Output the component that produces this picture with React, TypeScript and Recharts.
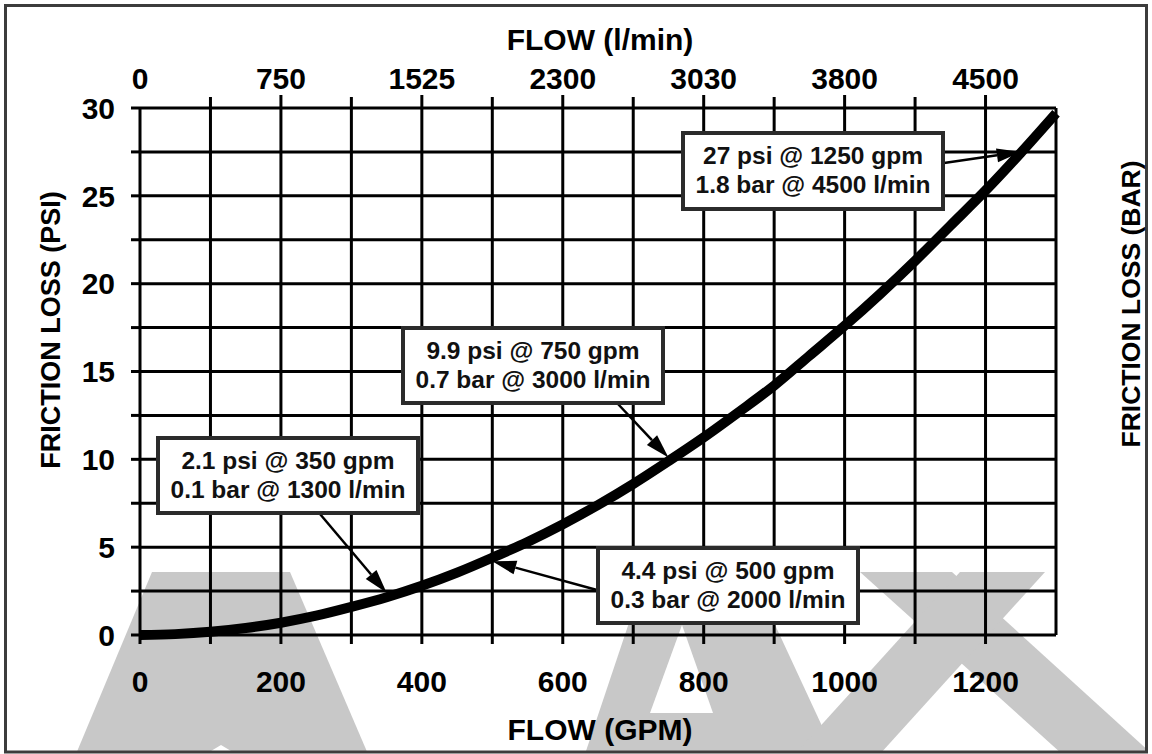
import React from 'react';
import { LineChart, Line, XAxis, YAxis, CartesianGrid, ReferenceDot } from 'recharts';

// ---------- data ----------
const flowGpm = [0, 50, 100, 150, 200, 250, 300, 350, 400, 450, 500, 550, 600, 650, 700, 750, 800, 850, 900, 950, 1000, 1050, 1100, 1150, 1200, 1250, 1300];
const lossPsi = [0, 0.05, 0.18, 0.4, 0.7, 1.1, 1.6, 2.15, 2.8, 3.55, 4.4, 5.3, 6.3, 7.4, 8.6, 9.9, 11.25, 12.7, 14.2, 15.9, 17.6, 19.4, 21.3, 23.3, 25.3, 27.45, 29.7];

const gpmTicks = [0, 100, 200, 300, 400, 500, 600, 700, 800, 900, 1000, 1100, 1200, 1300];
const gpmLabels = ['0', '200', '400', '600', '800', '1000', '1200'];
const lpmTicks = [0, 100, 200, 300, 400, 500, 600, 700, 800, 900, 1000, 1100, 1200];
const lpmLabels = ['0', '750', '1525', '2300', '3030', '3800', '4500'];
const psiTicks = [0, 2.5, 5, 7.5, 10, 12.5, 15, 17.5, 20, 22.5, 25, 27.5, 30];
const barTicks = [0, 1, 2];

// annotation targets (gpm, psi) and texts
const noteGpm = [350, 500, 750, 1250];
const notePsi = [2.4, 4.2, 10.1, 27.5];
const noteLine1 = ['2.1 psi @ 350 gpm', '4.4 psi @ 500 gpm', '9.9 psi @ 750 gpm', '27 psi @ 1250 gpm'];
const noteLine2 = ['0.1 bar @ 1300 l/min', '0.3 bar @ 2000 l/min', '0.7 bar @ 3000 l/min', '1.8 bar @ 4500 l/min'];

// ---------- layout / style (pixels) ----------
const FONT = '"Liberation Sans", Arial, Helvetica, sans-serif';
const TICK_FS = 30;
const TITLE_FS = 30;
const NOTE_FS = 24.5;
const boxes = [
  { x: 158, y: 438, w: 260, h: 75, tx: 320, ty: 514 },
  { x: 598, y: 548, w: 260, h: 75, tx: 597, ty: 590 },
  { x: 403, y: 328, w: 260, h: 75, tx: 618, ty: 404 },
  { x: 683, y: 133, w: 260, h: 76, tx: 944, ty: 163 },
];

const data = flowGpm.map((g, i) => ({ gpm: g, psi: lossPsi[i] }));

const BottomTick = (props: any) => {
  const { x, y, payload } = props;
  const v = payload.value;
  if (v > 1200) return null;
  const idx = gpmLabels.indexOf(String(v));
  return (
    <g>
      <line x1={x} y1={y} x2={x} y2={y + 9} stroke="#000" strokeWidth={3} />
      {idx >= 0 && (
        <text x={x} y={y + 56.5} textAnchor="middle" fontFamily={FONT} fontWeight="bold" fontSize={TICK_FS} fill="#000">
          {gpmLabels[idx]}
        </text>
      )}
    </g>
  );
};

const TopTick = (props: any) => {
  const { x, y, payload } = props;
  const v = payload.value;
  const i = v / 200;
  return (
    <g>
      {v > 0 && <line x1={x} y1={y} x2={x} y2={y - (v % 200 === 0 ? 13 : 11)} stroke="#000" strokeWidth={3} />}
      {v % 200 === 0 && (
        <text x={x} y={y - 19} textAnchor="middle" fontFamily={FONT} fontWeight="bold" fontSize={TICK_FS} fill="#000">
          {lpmLabels[i]}
        </text>
      )}
    </g>
  );
};

const LeftTick = (props: any) => {
  const { x, y, payload } = props;
  const v = payload.value;
  return (
    <g>
      <line x1={x - 9} y1={y} x2={x} y2={y} stroke="#000" strokeWidth={3} />
      {v % 5 === 0 && (
        <text x={x - 25} y={y + 10.8} textAnchor="end" fontFamily={FONT} fontWeight="bold" fontSize={TICK_FS} fill="#000">
          {String(v)}
        </text>
      )}
    </g>
  );
};

const RightTick = (props: any) => {
  const { x, y, payload } = props;
  return (
    <g>
      <line x1={x} y1={y} x2={x + 14} y2={y} stroke="#000" strokeWidth={3} />
      <text x={x + 27} y={y + 10.8} textAnchor="start" fontFamily={FONT} fontWeight="bold" fontSize={TICK_FS} fill="#000">
        {String(payload.value)}
      </text>
    </g>
  );
};

const makeNote = (k: number) => (props: any) => {
  const { cx, cy } = props;
  const b = boxes[k];
  const dx = cx - b.tx;
  const dy = cy - b.ty;
  const len = Math.sqrt(dx * dx + dy * dy);
  const ux = dx / len;
  const uy = dy / len;
  const headL = 24;
  const headW = 7;
  const bx = cx - ux * headL;
  const by = cy - uy * headL;
  const p1 = `${cx},${cy} ${bx - uy * headW},${by + ux * headW} ${bx + uy * headW},${by - ux * headW}`;
  return (
    <g>
      <line x1={b.tx} y1={b.ty} x2={bx} y2={by} stroke="#000" strokeWidth={2.5} />
      <polygon points={p1} fill="#000" />
      <rect x={b.x} y={b.y} width={b.w} height={b.h} fill="#fff" stroke="#2b2b2b" strokeWidth={4} />
      <text x={b.x + b.w / 2} y={b.y + 31} textAnchor="middle" fontFamily={FONT} fontWeight="bold" fontSize={NOTE_FS} fill="#111">
        {noteLine1[k]}
      </text>
      <text x={b.x + b.w / 2} y={b.y + 60} textAnchor="middle" fontFamily={FONT} fontWeight="bold" fontSize={NOTE_FS} fill="#111">
        {noteLine2[k]}
      </text>
    </g>
  );
};

const titleStyle = { fontFamily: FONT, fontWeight: 'bold' as const, fontSize: TITLE_FS, fill: '#000' };

export default function App() {
  return (
    <div style={{ position: 'absolute', left: 0, top: 0, width: 1152, height: 754, background: '#fff' }}>
      <svg width={1152} height={754} style={{ position: 'absolute', left: 0, top: 0 }}>
        <defs>
          <clipPath id="frame">
            <rect x={6} y={6} width={1140} height={745} />
          </clipPath>
        </defs>
        <g clipPath="url(#frame)" fill="#c8c8c8">
          <polygon points="152,572 290,572 368,754 76,754" />
          <polygon points="206,754 221,745 236,754" fill="#fff" />
          <polygon points="650,560 745,560 835,754 585,754" />
          <polygon points="650,713 713,713 682,625" fill="#fff" />
          <polygon points="860,572 952,572 1152,754 1150,754 1062,754" />
          <polygon points="960,572 1045,572 880,754 795,754" />
        </g>
        <rect x={5.5} y={5.5} width={1141} height={746.5} fill="none" stroke="#3c3c3c" strokeWidth={3} />
      </svg>
      <div style={{ position: 'absolute', left: 0, top: 0 }}>
        <LineChart width={1152} height={754} data={data} margin={{ top: 0, right: 0, bottom: 0, left: 0 }}>
          <XAxis
            xAxisId="gpm"
            dataKey="gpm"
            type="number"
            orientation="bottom"
            domain={[0, 1300]}
            ticks={gpmTicks}
            interval={0}
            height={119}
            tickLine={false}
            axisLine={false}
            tickSize={0}
            tickMargin={0}
            tick={<BottomTick />}
            label={(p: any) => (
              <text x={p.viewBox.x + p.viewBox.width / 2 + 2} y={p.viewBox.y + 105} textAnchor="middle" {...titleStyle}>
                FLOW (GPM)
              </text>
            )}
          />
          <XAxis
            xAxisId="top"
            dataKey="gpm"
            type="number"
            orientation="top"
            domain={[0, 1300]}
            allowDataOverflow
            ticks={lpmTicks}
            interval={0}
            height={108}
            tickLine={false}
            axisLine={false}
            tickSize={0}
            tickMargin={0}
            tick={<TopTick />}
            label={(p: any) => (
              <text x={p.viewBox.x + p.viewBox.width / 2 + 2} y={50} textAnchor="middle" {...titleStyle}>
                FLOW (l/min)
              </text>
            )}
          />
          <YAxis
            yAxisId="psi"
            type="number"
            orientation="left"
            domain={[0, 30]}
            ticks={psiTicks}
            interval={0}
            width={140}
            tickLine={false}
            axisLine={false}
            tickSize={0}
            tickMargin={0}
            tick={<LeftTick />}
            label={() => (
              <text x={60} y={330} textAnchor="middle" transform="rotate(-90, 60, 330)" {...titleStyle} fontSize={27}>
                FRICTION LOSS (PSI)
              </text>
            )}
          />
          <YAxis
            yAxisId="bar"
            type="number"
            orientation="right"
            domain={[0, 2]}
            ticks={barTicks}
            interval={0}
            width={96}
            tickLine={false}
            axisLine={false}
            tickSize={0}
            tickMargin={0}
            tick={<RightTick />}
            label={() => (
              <text x={1140} y={304} textAnchor="middle" transform="rotate(-90, 1140, 304)" {...titleStyle} fontSize={26.5}>
                FRICTION LOSS (BAR)
              </text>
            )}
          />
          <CartesianGrid xAxisId="gpm" yAxisId="psi" stroke="#000" strokeWidth={3} strokeDasharray="" />
          <Line
            xAxisId="gpm"
            yAxisId="psi"
            type="monotone"
            dataKey="psi"
            stroke="#000"
            strokeWidth={10}
            dot={false}
            activeDot={false}
            isAnimationActive={false}
          />
          {noteGpm.map((g, k) => (
            <ReferenceDot
              key={k}
              xAxisId="gpm"
              yAxisId="psi"
              x={g}
              y={notePsi[k]}
              r={1}
              ifOverflow="visible"
              shape={makeNote(k)}
            />
          ))}
        </LineChart>
      </div>
    </div>
  );
}
